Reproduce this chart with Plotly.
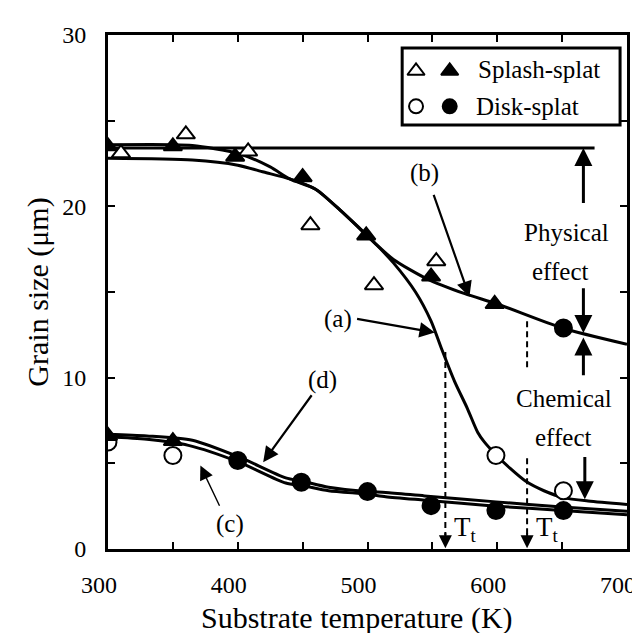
import plotly.graph_objects as go

# ---------------- data ----------------
# Splash-splat (triangles)
splash_open_x = [310, 360, 408, 456, 505, 553]
splash_open_y = [23.1, 24.2, 23.2, 18.9, 15.4, 16.8]
splash_filled_x = [300, 350, 398, 450, 499, 549, 598, 300, 350]
splash_filled_y = [23.5, 23.5, 22.9, 21.7, 18.3, 15.9, 14.3, 6.6, 6.3]
# Disk-splat (circles)
disk_open_x = [300, 350, 599, 651]
disk_open_y = [6.25, 5.46, 5.46, 3.4]
disk_filled_x = [400, 449, 500, 549, 599, 651, 651]
disk_filled_y = [5.16, 3.9, 3.35, 2.53, 2.24, 2.24, 12.9]

# fitted curves
curve_a_x = [300, 365, 400, 420, 440, 460, 480, 505, 520, 537, 549, 557, 567, 577, 585, 590, 599, 610, 622, 636, 651, 670, 700]
curve_a_y = [22.8, 22.7, 22.4, 22.0, 21.6, 21.0, 19.7, 17.9, 16.7, 15.0, 13.3, 11.7, 9.8, 8.2, 6.8, 6.25, 5.5, 4.7, 3.95, 3.4, 3.0, 2.8, 2.6]
curve_b_x = [300, 350, 365, 400, 425, 440, 460, 480, 505, 520, 545, 575, 600, 650, 700]
curve_b_y = [23.6, 23.6, 23.55, 23.1, 22.3, 21.6, 21.0, 19.7, 17.9, 16.9, 15.8, 14.9, 14.3, 12.9, 11.95]
curve_c_x = [300, 330, 362, 400, 437, 450, 470, 500, 514, 544, 599, 650, 700]
curve_c_y = [6.55, 6.4, 6.05, 5.1, 3.85, 3.7, 3.4, 3.2, 3.05, 2.85, 2.5, 2.25, 2.0]
curve_d_x = [300, 330, 365, 400, 437, 450, 470, 500, 514, 544, 599, 650, 700]
curve_d_y = [6.7, 6.6, 6.35, 5.4, 4.15, 3.95, 3.6, 3.35, 3.3, 3.1, 2.75, 2.45, 2.2]

physical_level_x = [300, 675]
physical_level_y = [23.4, 23.4]

transition_T = [560, 623]

x_ticks = [300, 400, 500, 600, 700]
y_ticks = [0, 10, 20, 30]

FONT = '"Liberation Serif", "Times New Roman", Times, serif'
BLACK = "black"

fig = go.Figure()

def line(x, y):
    fig.add_trace(go.Scatter(x=x, y=y, mode="lines", line=dict(color=BLACK, width=3, shape="spline", smoothing=0.7),
                             hoverinfo="skip", showlegend=False))

line(physical_level_x, physical_level_y)
line(curve_c_x, curve_c_y)
line(curve_d_x, curve_d_y)
line(curve_a_x, curve_a_y)
line(curve_b_x, curve_b_y)

def markers(x, y, symbol, fill, size):
    fig.add_trace(go.Scatter(x=x, y=y, mode="markers",
                             marker=dict(symbol=symbol, size=size, color=fill, line=dict(color=BLACK, width=2)),
                             hoverinfo="skip", showlegend=False))

markers(disk_open_x, disk_open_y, "circle", "white", 17)
markers(splash_open_x, splash_open_y, "triangle-up", "white", 16)
markers(disk_filled_x, disk_filled_y, "circle", BLACK, 17)
markers(splash_filled_x, splash_filled_y, "triangle-up", BLACK, 16)

# ---------------- dashed transition lines ----------------
shapes = []
for i, xt in enumerate(transition_T):
    top = 11.5 if i == 0 else 5.3
    shapes.append(dict(type="line", xref="x", yref="y", x0=xt, x1=xt, y0=top, y1=0.8,
                       line=dict(color=BLACK, width=2, dash="6px,4px")))
shapes.append(dict(type="line", xref="x", yref="y", x0=transition_T[1], x1=transition_T[1], y0=13.3, y1=10.4,
                   line=dict(color=BLACK, width=2, dash="6px,4px")))

# legend frame (pixel frame via overlay axes)
shapes.append(dict(type="rect", xref="x2", yref="y2", x0=397, x1=617, y0=40, y1=117,
                   line=dict(color=BLACK, width=3), fillcolor="white", layer="below"))

annotations = []

def arrow(tip, tail, width=3, size=1.2, head=2):
    annotations.append(dict(x=tip[0], y=tip[1], ax=tail[0], ay=tail[1], xref="x", yref="y", axref="x", ayref="y",
                            text="", showarrow=True, arrowhead=head, arrowsize=size, arrowwidth=width,
                            arrowcolor=BLACK, standoff=0))

def text(x, y, s, size=25, xanchor="center", ref=("x", "y")):
    annotations.append(dict(x=x, y=y, xref=ref[0], yref=ref[1], text=s, showarrow=False,
                            font=dict(family=FONT, size=size, color=BLACK), xanchor=xanchor, yanchor="middle"))

# Tt arrows
for xt in transition_T:
    arrow((xt, 0.05), (xt, 1.0), width=2, size=1.3)
text(565.5, 1.15, "T<sub>t</sub>", size=27, xanchor="left")
text(628.0, 1.15, "T<sub>t</sub>", size=27, xanchor="left")

# physical / chemical arrows
arrow((666.4, 23.4), (666.4, 20.1))
arrow((666.4, 12.6), (666.4, 15.3))
arrow((666.4, 12.35), (666.4, 10.05))
arrow((667.5, 2.9), (667.5, 5.45))
text(653.7, 18.5, "Physical")
text(648.6, 16.2, "effect")
text(651.7, 8.8, "Chemical")
text(651.0, 6.5, "effect")

# curve labels
text(476.9, 13.45, "(a)")
arrow((551.9, 12.63), (490.8, 13.45), width=2.2, size=1.4)
text(544.3, 21.93, "(b)")
arrow((578.6, 14.72), (550.6, 20.76), width=2.2, size=1.4)
text(465.4, 9.84, "(d)")
arrow((419.6, 5.07), (457.8, 9.06), width=2.2, size=1.4)
text(394.1, 1.46, "(c)")
arrow((371.2, 4.87), (386.5, 2.44), width=1.4, size=2.0)

# legend
fig.add_trace(go.Scatter(x=[411], y=[63], xaxis="x2", yaxis="y2", mode="markers",
                         marker=dict(symbol="triangle-up", size=15, color="white", line=dict(color=BLACK, width=2)),
                         hoverinfo="skip", showlegend=False))
fig.add_trace(go.Scatter(x=[445], y=[63], xaxis="x2", yaxis="y2", mode="markers",
                         marker=dict(symbol="triangle-up", size=15, color=BLACK, line=dict(color=BLACK, width=2)),
                         hoverinfo="skip", showlegend=False))
fig.add_trace(go.Scatter(x=[411], y=[98.3], xaxis="x2", yaxis="y2", mode="markers",
                         marker=dict(symbol="circle", size=14, color="white", line=dict(color=BLACK, width=2)),
                         hoverinfo="skip", showlegend=False))
fig.add_trace(go.Scatter(x=[445], y=[98.3], xaxis="x2", yaxis="y2", mode="markers",
                         marker=dict(symbol="circle", size=14, color=BLACK, line=dict(color=BLACK, width=2)),
                         hoverinfo="skip", showlegend=False))
text(472, 61.7, "Splash-splat", xanchor="left", ref=("x2", "y2"))
text(470, 98.3, "Disk-splat", xanchor="left", ref=("x2", "y2"))

# axis titles
annotations.append(dict(x=0.48, y=-0.1342, xref="paper", yref="paper", text="Substrate temperature (K)",
                        showarrow=False, font=dict(family=FONT, size=30, color=BLACK),
                        xanchor="center", yanchor="middle"))
annotations.append(dict(x=-0.1355, y=0.5, xref="paper", yref="paper", text="Grain size (μm)", textangle=-90,
                        showarrow=False, font=dict(family=FONT, size=30, color=BLACK),
                        xanchor="center", yanchor="middle"))

axis_common = dict(showline=True, linecolor=BLACK, linewidth=3, mirror="ticks", ticks="inside", ticklen=7,
                   tickwidth=2, tickcolor=BLACK, showgrid=False, zeroline=False,
                   tickfont=dict(family=FONT, size=24, color=BLACK))

fig.update_layout(
    width=640, height=633,
    margin=dict(l=100, r=16, t=27, b=92),
    plot_bgcolor="white", paper_bgcolor="white",
    xaxis=dict(range=[300, 700], tickvals=x_ticks, ticklabelstandoff=12, ticklabelshift=-9,
               minor=dict(ticks="inside", ticklen=7, tickwidth=2, tickcolor=BLACK, dtick=50, tick0=300),
               **axis_common),
    yaxis=dict(range=[0, 30], tickvals=y_ticks, ticklabelstandoff=14,
               minor=dict(ticks="inside", ticklen=7, tickwidth=2, tickcolor=BLACK, dtick=5, tick0=0),
               **axis_common),
    xaxis2=dict(range=[100, 624], overlaying="x", visible=False, fixedrange=True),
    yaxis2=dict(range=[541, 27], overlaying="y", visible=False, fixedrange=True),
    shapes=shapes,
    annotations=annotations,
    showlegend=False,
)

fig.write_html("out.html")
